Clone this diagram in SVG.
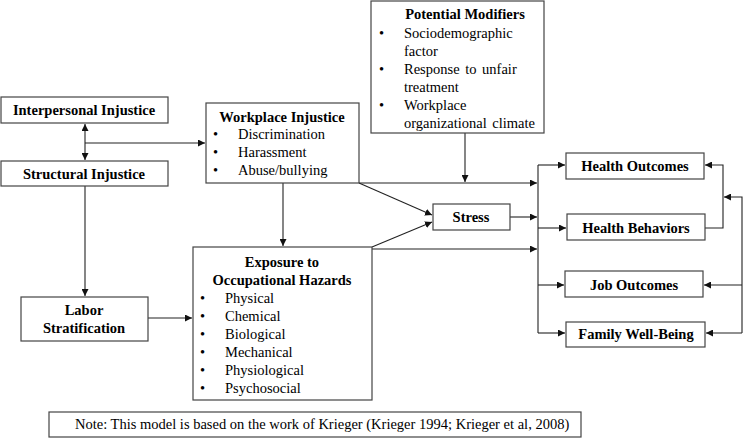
<svg xmlns="http://www.w3.org/2000/svg" width="743" height="438" viewBox="0 0 743 438" font-family="'Liberation Serif', 'Times New Roman', 'DejaVu Serif', serif">
<style>
.box{fill:#fff;stroke:#444;stroke-width:1.2}
.t{font-family:'Liberation Serif','Times New Roman','DejaVu Serif',serif;font-size:14.5px;fill:#000}
.b{font-weight:bold;text-anchor:middle}
.c{fill:none;stroke:#222;stroke-width:1.1}
</style>
<defs>
<marker id="ah" viewBox="0 0 10 10" refX="10" refY="5" markerWidth="7" markerHeight="7" markerUnits="userSpaceOnUse" orient="auto">
<path d="M0,0 L10,5 L0,10 z" fill="#111"/>
</marker>
</defs>
<rect width="743" height="438" fill="#fff"/>
<g id="connectors">
<line class="c" x1="85" y1="143" x2="85" y2="124" marker-end="url(#ah)"/>
<line class="c" x1="85" y1="143" x2="85" y2="160" marker-end="url(#ah)"/>
<line class="c" x1="85" y1="143" x2="205" y2="143" marker-end="url(#ah)"/>
<line class="c" x1="85" y1="186" x2="85" y2="296" marker-end="url(#ah)"/>
<line class="c" x1="148" y1="318" x2="192" y2="318" marker-end="url(#ah)"/>
<line class="c" x1="283" y1="183" x2="283" y2="246" marker-end="url(#ah)"/>
<line class="c" x1="359" y1="183" x2="537" y2="183" marker-end="url(#ah)"/>
<line class="c" x1="465" y1="133" x2="465" y2="182" marker-end="url(#ah)"/>
<line class="c" x1="359" y1="183" x2="432" y2="215" marker-end="url(#ah)"/>
<line class="c" x1="372" y1="247" x2="432" y2="222" marker-end="url(#ah)"/>
<line class="c" x1="372" y1="249" x2="537" y2="249" marker-end="url(#ah)"/>
<line class="c" x1="510" y1="217" x2="537" y2="217" marker-end="url(#ah)"/>
<line class="c" x1="538" y1="165" x2="538" y2="333"/>
<line class="c" x1="538" y1="165" x2="565" y2="165" marker-end="url(#ah)"/>
<line class="c" x1="538" y1="228" x2="566" y2="228" marker-end="url(#ah)"/>
<line class="c" x1="538" y1="285" x2="564" y2="285" marker-end="url(#ah)"/>
<line class="c" x1="538" y1="333" x2="565" y2="333" marker-end="url(#ah)"/>
<polyline class="c" points="705,228 723,228 723,165 705,165" marker-end="url(#ah)"/>
<polyline class="c" points="742,333 742,197 724,197" marker-end="url(#ah)"/>
<line class="c" x1="742" y1="285" x2="704" y2="285" marker-end="url(#ah)"/>
<line class="c" x1="742" y1="333" x2="706" y2="333" marker-end="url(#ah)"/>
</g>
<g id="interpersonal">
<rect class="box" x="1" y="97" width="167" height="26"/>
<text class="t b" x="84" y="115">Interpersonal Injustice</text>
</g>
<g id="structural">
<rect class="box" x="1" y="161" width="167" height="25"/>
<text class="t b" x="84" y="179">Structural Injustice</text>
</g>
<g id="workplace">
<rect class="box" x="206" y="103" width="153" height="80"/>
<text class="t b" x="282" y="122">Workplace Injustice</text>
<g class="t">
<text x="213" y="139">•</text><text x="238" y="139">Discrimination</text>
<text x="213" y="157">•</text><text x="238" y="157">Harassment</text>
<text x="213" y="175">•</text><text x="238" y="175">Abuse/bullying</text>
</g>
</g>
<g id="modifiers">
<rect class="box" x="371" y="1" width="173" height="132"/>
<text class="t b" x="465" y="19">Potential Modifiers</text>
<g class="t" word-spacing="2">
<text x="379" y="38">•</text><text x="404" y="38">Sociodemographic</text>
<text x="404" y="56">factor</text>
<text x="379" y="74">•</text><text x="404" y="74">Response to unfair</text>
<text x="404" y="92">treatment</text>
<text x="379" y="110">•</text><text x="404" y="110">Workplace</text>
<text x="404" y="128">organizational climate</text>
</g>
</g>
<g id="stress">
<rect class="box" x="433" y="204" width="77" height="26"/>
<text class="t b" x="471" y="222">Stress</text>
</g>
<g id="labor">
<rect class="box" x="21" y="297" width="127" height="44"/>
<text class="t b" x="84" y="315">Labor</text>
<text class="t b" x="84" y="333">Stratification</text>
</g>
<g id="exposure">
<rect class="box" x="193" y="247" width="179" height="153"/>
<text class="t b" x="282" y="267">Exposure to</text>
<text class="t b" x="282" y="285">Occupational Hazards</text>
<g class="t">
<text x="200" y="303">•</text><text x="225" y="303">Physical</text>
<text x="200" y="321">•</text><text x="225" y="321">Chemical</text>
<text x="200" y="339">•</text><text x="225" y="339">Biological</text>
<text x="200" y="357">•</text><text x="225" y="357">Mechanical</text>
<text x="200" y="375">•</text><text x="225" y="375">Physiological</text>
<text x="200" y="393">•</text><text x="225" y="393">Psychosocial</text>
</g>
</g>
<g id="health-outcomes">
<rect class="box" x="566" y="153" width="138" height="26"/>
<text class="t b" x="635" y="171">Health Outcomes</text>
</g>
<g id="health-behaviors">
<rect class="box" x="567" y="214" width="138" height="26"/>
<text class="t b" x="636" y="233">Health Behaviors</text>
</g>
<g id="job-outcomes">
<rect class="box" x="565" y="271" width="138" height="26"/>
<text class="t b" x="634" y="290">Job Outcomes</text>
</g>
<g id="family">
<rect class="box" x="566" y="322" width="139" height="25"/>
<text class="t b" x="636" y="339">Family Well-Being</text>
</g>
<g id="note">
<rect class="box" x="49" y="412" width="532" height="25"/>
<text class="t" x="75" y="429">Note: This model is based on the work of Krieger (Krieger 1994; Krieger et al, 2008)</text>
</g>
</svg>
